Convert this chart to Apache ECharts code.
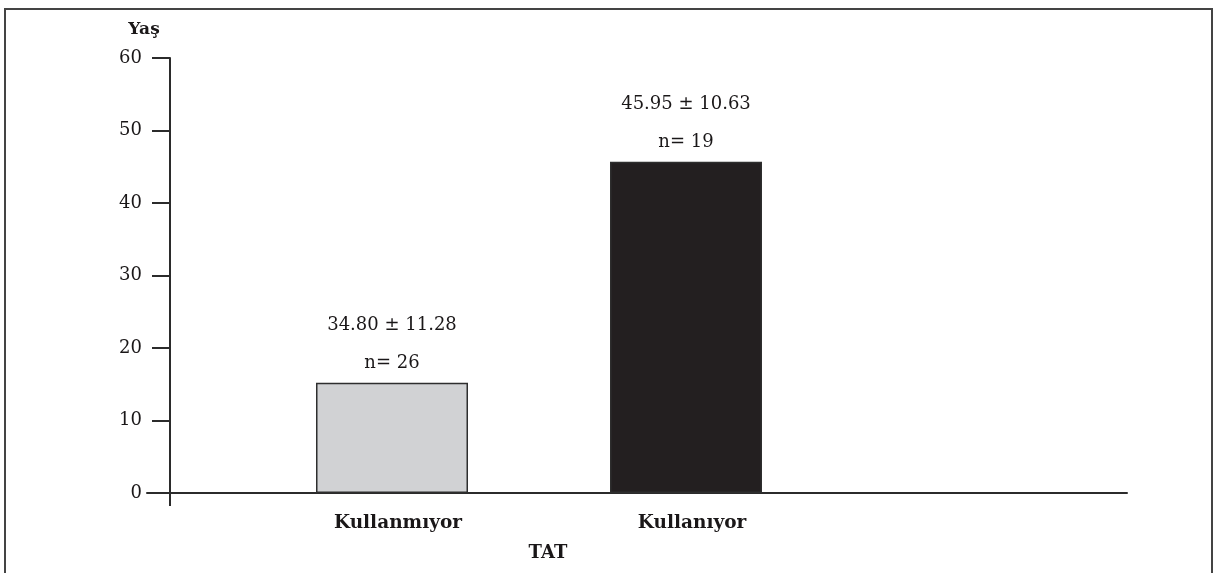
<!DOCTYPE html>
<html>
<head>
<meta charset="utf-8">
<script src="https://cdn.jsdelivr.net/npm/echarts@6/dist/echarts.min.js"></script>
<style>
html,body{margin:0;padding:0;background:#fff;overflow:hidden;}
#frame{position:absolute;left:4px;top:8px;width:1209px;height:620px;border:2px solid #444;box-sizing:border-box;}
#chart{position:absolute;left:0;top:0;width:1214px;height:573px;}
</style>
</head>
<body>
<div id="frame"></div>
<div id="chart"></div>
<script>
// Data
const categories = ['', '', 'Kullanmıyor', '', '', 'Kullanıyor', '', '', '', ''];
const barIndices = [2, 5];
const barValues = [15.2, 45.7];
const meanSd = ['34.80 ± 11.28', '45.95 ± 10.63'];
const nLabels = ['n= 26', 'n= 19'];
const barColors = ['#d1d2d4', '#231f20'];
const yTicks = [0, 10, 20, 30, 40, 50, 60];
const yAxisTitle = 'Yaş';
const xAxisTitle = 'TAT';

const FONT = '"DejaVu Serif", serif';
const INK = '#1a1718';

const seriesData = categories.map(() => null);
barIndices.forEach((ci, k) => {
  seriesData[ci] = {
    value: barValues[k],
    itemStyle: { color: barColors[k], borderColor: '#2e2e2e', borderWidth: 1.5 },
    label: { formatter: meanSd[k] + '\n' + nLabels[k] }
  };
});

const chart = echarts.init(document.getElementById('chart'), null, { renderer: 'canvas' });
const option = {
  animation: false,
  backgroundColor: 'transparent',
  grid: { left: 147, right: 87, top: 58, bottom: 80 },
  xAxis: {
    type: 'category',
    data: categories,
    axisLine: { show: true, lineStyle: { color: '#2b2b2b', width: 2 } },
    axisTick: { show: false },
    axisLabel: {
      interval: 0,
      margin: 21,
      fontFamily: FONT,
      fontWeight: 'bold',
      fontSize: 18.5,
      color: INK,
      padding: [0, 0, 0, 12]
    }
  },
  yAxis: {
    type: 'value',
    min: yTicks[0],
    max: yTicks[yTicks.length - 1],
    interval: 10,
    offset: -23,
    splitLine: { show: false },
    axisLine: { show: true, lineStyle: { color: '#2b2b2b', width: 2 } },
    axisTick: { show: true, inside: false, length: 18, lineStyle: { color: '#2b2b2b', width: 2 } },
    axisLabel: { margin: 28, fontFamily: FONT, fontSize: 18, color: INK }
  },
  series: [{
    type: 'bar',
    data: seriesData,
    barWidth: 152,
    label: {
      show: true,
      position: 'top',
      distance: 0,
      fontFamily: FONT,
      fontSize: 18,
      lineHeight: 38,
      color: INK,
      align: 'center'
    }
  }]
};
chart.setOption(option);

// axis titles and y-axis extension below zero
const p0 = chart.convertToPixel({ yAxisIndex: 0 }, 0);
const pTop = chart.convertToPixel({ yAxisIndex: 0 }, 60);
const axisX = 170;
chart.setOption({
  graphic: [
    { type: 'line', shape: { x1: axisX, y1: p0, x2: axisX, y2: p0 + 13 }, style: { stroke: '#2b2b2b', lineWidth: 2 } },
    { type: 'text', x: 144, y: pTop - 28, style: { text: yAxisTitle, font: 'bold 17px ' + FONT, fill: INK, textAlign: 'center', textVerticalAlign: 'middle' } },
    { type: 'text', x: 548, y: 553, style: { text: xAxisTitle, font: 'bold 18px ' + FONT, fill: INK, textAlign: 'center', textVerticalAlign: 'middle' } }
  ]
});
</script>
</body>
</html>
